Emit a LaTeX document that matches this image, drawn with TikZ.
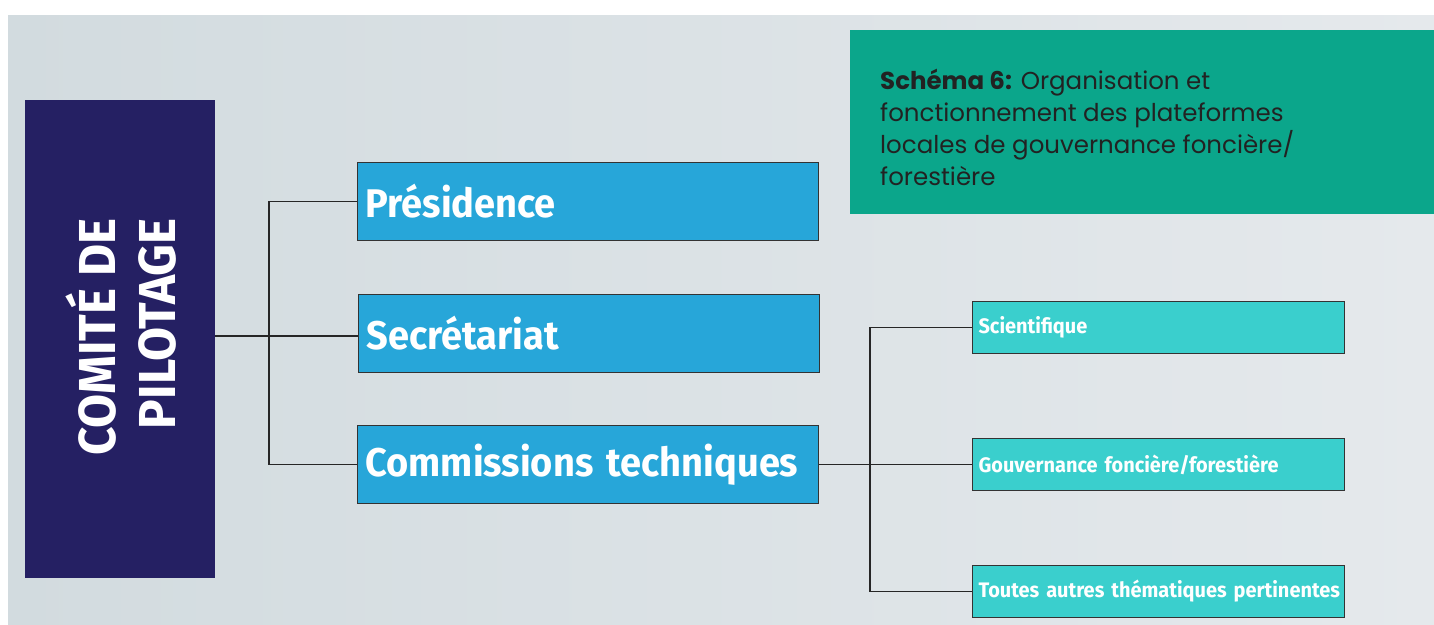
\documentclass[tikz,border=0pt]{standalone}
\usepackage{fontspec}
\usepackage{xcolor}
\usepackage{tikz}
\usetikzlibrary{positioning}
\setmainfont{Poppins}
\newfontfamily\boxfont[FakeStretch=0.95]{Fira Sans}
\definecolor{fondA}{HTML}{D2DBDF}
\definecolor{fondB}{HTML}{E5E9EC}
\definecolor{vertTitre}{HTML}{0BA68B}
\definecolor{marine}{HTML}{252063}
\definecolor{bleuPole}{HTML}{27A6D9}
\definecolor{turquoise}{HTML}{3ACFCD}
\definecolor{encre}{HTML}{222222}

\begin{document}
\begin{tikzpicture}[x=1pt,y=-1pt,
    pole/.style={draw=black!80,line width=1.1pt,fill=bleuPole,text=white,
      anchor=north west,inner xsep=8pt,inner ysep=0pt,text width=445pt,
      minimum height=78pt,align=left,
      font=\boxfont\bfseries\fontsize{40}{44}\selectfont},
    commission/.style={draw=black!80,line width=1.1pt,fill=turquoise,text=white,
      anchor=north west,inner xsep=6pt,inner ysep=0pt,text width=360pt,
      minimum height=52pt,align=left,
      font=\boxfont\bfseries\fontsize{21}{24}\selectfont},
    lien/.style={draw=black!85,line width=1.1pt}]
  \useasboundingbox (0,0) rectangle (1434,624);
  \shade[left color=fondA,right color=fondB] (8,15) rectangle (1434,624);

  % titre
  \node[fill=vertTitre,anchor=north west,minimum width=584pt,minimum height=184pt,
    inner sep=0pt] (cadre) at (850,30) {};
  \node[anchor=north west,align=left,text=encre,inner sep=0pt,
    font=\fontsize{24.5}{32}\selectfont] (titre) at (880,69)
    {\textbf{Schéma 6:} Organisation et\\fonctionnement des plateformes\\
     locales de gouvernance foncière/\\forestière};

  % comite
  \node[fill=marine,anchor=north west,minimum width=190pt,minimum height=478pt,
    inner sep=0pt] (comite) at (25,100) {};
  \node[rotate=90,text=white,align=right,inner sep=0pt,
    font=\boxfont\bfseries\fontsize{52}{60}\selectfont] (comitetxt) at (121,337)
    {COMITÉ DE\\PILOTAGE};

  % poles
  \node[pole] (pres) at (357,162) {Présidence};
  \node[pole] (secr) at (358,294) {Secrétariat};
  \node[pole] (comm) at (357,425) {Commissions techniques};

  % commissions techniques
  \node[commission] (scien) at (972,301) {\mbox{Scientifique}};
  \node[commission] (gouv) at (972,438) {\mbox{Gouvernance foncière/forestière}};
  \node[commission] (autres) at (972,565) {\mbox{Toutes autres thématiques pertinentes}};

  \coordinate (brancheG) at (269,336);
  \coordinate (brancheD) at (870,464);

  \draw[lien] (comite.east |- brancheG) -- (secr.west |- brancheG);
  \draw[lien] (pres.west) -| (brancheG) |- (comm.west);
  \draw[lien] (comm.east) -- (gouv.west);
  \draw[lien] (scien.west) -| (brancheD) |- (autres.west);
\end{tikzpicture}
\end{document}
